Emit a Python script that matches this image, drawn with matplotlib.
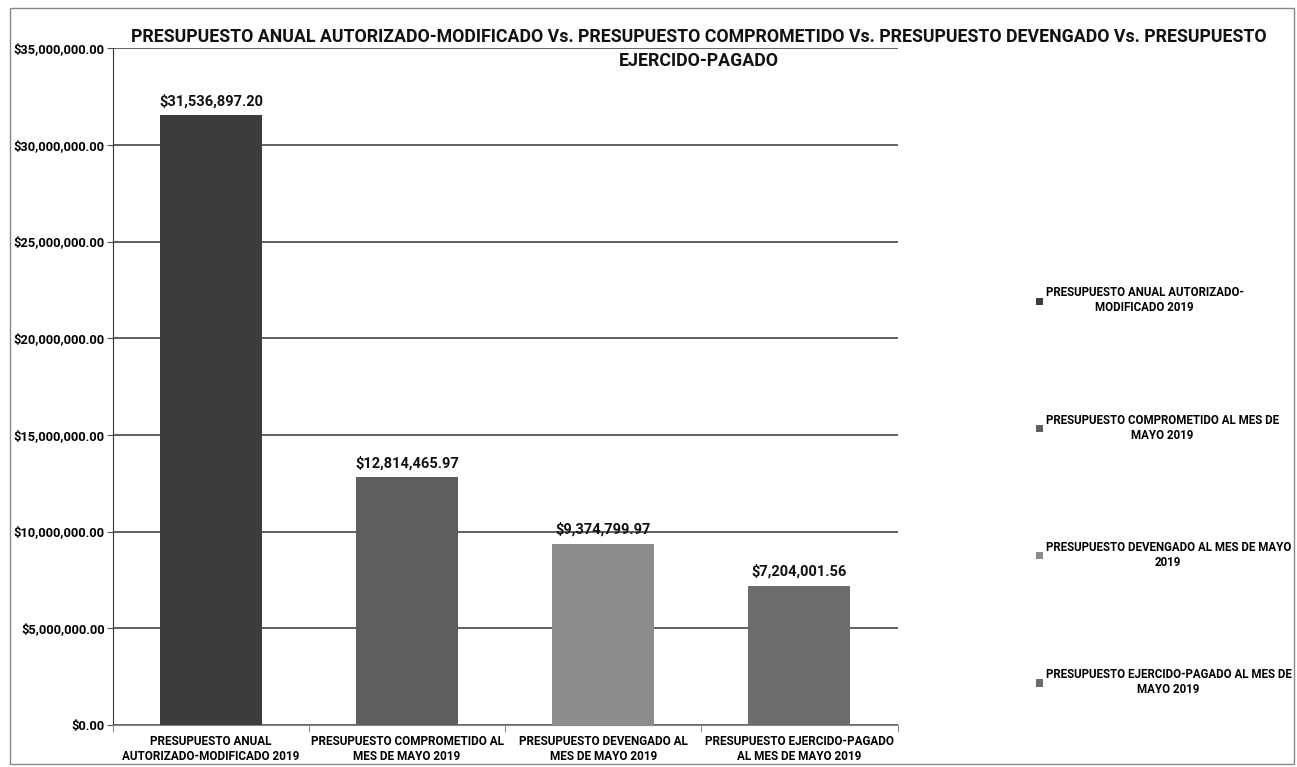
import matplotlib
matplotlib.use("Agg")
import matplotlib.pyplot as plt
from matplotlib.patches import Rectangle
from matplotlib.ticker import FuncFormatter

plt.rcParams['font.family'] = ['Roboto', 'DejaVu Sans']

categories = [
    "PRESUPUESTO ANUAL\nAUTORIZADO-MODIFICADO 2019",
    "PRESUPUESTO COMPROMETIDO AL\nMES DE MAYO 2019",
    "PRESUPUESTO DEVENGADO AL\nMES DE MAYO 2019",
    "PRESUPUESTO EJERCIDO-PAGADO\nAL MES DE MAYO 2019",
]
legend_labels = [
    "PRESUPUESTO ANUAL AUTORIZADO-\nMODIFICADO 2019",
    "PRESUPUESTO COMPROMETIDO AL MES DE\nMAYO 2019",
    "PRESUPUESTO DEVENGADO AL MES DE MAYO\n2019",
    "PRESUPUESTO EJERCIDO-PAGADO AL MES DE\nMAYO 2019",
]
values = [31536897.20, 12814465.97, 9374799.97, 7204001.56]
colors = ["#3c3c3c", "#5e5e5e", "#8c8c8c", "#6c6c6c"]

title = ("PRESUPUESTO ANUAL AUTORIZADO-MODIFICADO Vs. PRESUPUESTO COMPROMETIDO Vs. "
         "PRESUPUESTO DEVENGADO Vs. PRESUPUESTO\nEJERCIDO-PAGADO")

fig = plt.figure(figsize=(12.97, 7.67), dpi=100)
ax = fig.add_axes([0.087, 0.055, 0.605, 0.882])

x = range(len(values))
bars = ax.bar(x, values, width=0.52, color=colors, zorder=3)

for b, v in zip(bars, values):
    ax.text(b.get_x() + b.get_width() / 2, v + 350000, "${:,.2f}".format(v),
            ha="center", va="bottom", fontsize=10.5, fontweight="bold", color="#111111")

ax.set_ylim(0, 35000000)
ax.set_xlim(-0.5, len(values) - 0.5)
ax.set_yticks(range(0, 35000001, 5000000))
ax.yaxis.set_major_formatter(FuncFormatter(lambda v, p: "${:,.2f}".format(v)))
ax.grid(axis="y", color="#555555", linewidth=1.3, zorder=0)
ax.set_xticks(list(x))
ax.set_xticklabels(categories, fontsize=8.5, fontweight="bold")
ax.set_xticks([i + 0.5 for i in range(-1, len(values))], minor=True)
ax.tick_params(axis="x", which="major", length=0, pad=7)
ax.tick_params(axis="x", which="minor", length=5, color="#777777")
ax.tick_params(axis="y", length=4, pad=2, labelsize=9.3, color="#555555")
for lbl in ax.get_yticklabels():
    lbl.set_fontweight("bold")

for s in ["top", "right"]:
    ax.spines[s].set_visible(False)
ax.spines["left"].set_color("#333333")
ax.spines["bottom"].set_color("#888888")

fig.text(0.539, 0.936, title, ha="center", va="center", fontsize=12.8,
         fontweight="bold", multialignment="center", linespacing=1.45, color="#111111")

leg = fig.legend(bars, legend_labels, loc="upper left", bbox_to_anchor=(0.791, 0.64),
                 frameon=False, handlelength=0.6, handleheight=0.6,
                 handletextpad=0.2, labelspacing=8.6, prop={"weight": "bold", "size": 8.3})
for t in leg.get_texts():
    t.set_multialignment("center")

fig.add_artist(Rectangle((0.008, 0.004), 0.99, 0.985, transform=fig.transFigure,
                         fill=False, edgecolor="#888888", linewidth=1))

fig.savefig("out.png", dpi=100)
